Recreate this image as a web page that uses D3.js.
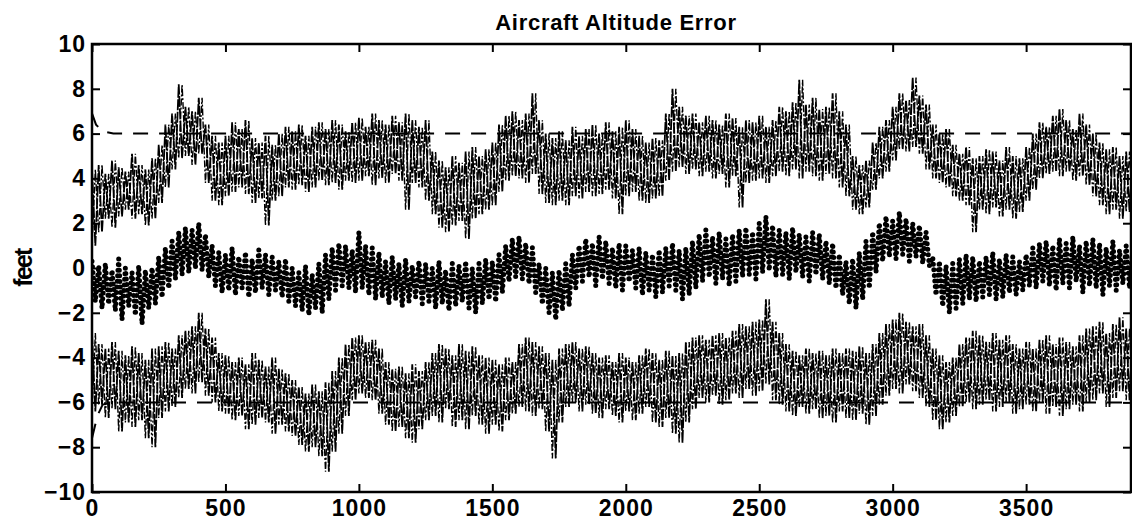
<!DOCTYPE html>
<html>
<head>
<meta charset="utf-8">
<script src="https://cdn.jsdelivr.net/npm/d3@7"></script>
<style>
  body { margin: 0; background: #fff; }
  svg { display: block; }
  text { font-family: "Liberation Sans", Arial, sans-serif; fill: #000; }
</style>
</head>
<body>
<svg id="chart" width="1132" height="524"></svg>
<script>
// sample spacing along the x axis (each bin holds a hi and a lo reading)
var binWidth = 25;

var xTicks = [0, 500, 1000, 1500, 2000, 2500, 3000, 3500];
var yTicks = [-10, -8, -6, -4, -2, 0, 2, 4, 6, 8, 10];

// upper trace (positive error band), envelope per bin
var upperHi = [
  4.4, 4.6, 4.2, 4.8, 4.5, 4.3, 5.1, 4.6, 4.4, 4.9,
  5.5, 6.4, 6.9, 8.2, 7.2, 7.0, 7.6, 6.4, 5.9, 5.6,
  5.9, 6.5, 6.2, 6.6, 5.8, 5.6, 5.9, 5.5, 6.0, 6.3,
  6.1, 6.4, 5.9, 6.3, 6.5, 6.2, 6.6, 6.4, 6.1, 6.5,
  6.7, 6.3, 6.9, 6.6, 6.4, 6.8, 6.5, 6.9, 6.6, 6.3,
  6.6, 5.2, 4.8, 4.5, 5.0, 4.7, 5.2, 5.4, 5.0, 5.3,
  5.6, 6.4, 6.8, 7.0, 6.6, 6.9, 7.8, 6.6, 6.0, 5.8,
  6.1, 5.7, 6.3, 5.9, 6.2, 6.4, 6.0, 6.5, 6.1, 6.3,
  6.6, 6.2, 5.9, 5.6, 5.8, 5.7, 6.9, 8.0, 7.2, 6.8,
  6.9, 6.5, 6.8, 6.6, 6.4, 6.9, 6.7, 6.3, 6.6, 6.5,
  6.8, 6.3, 6.6, 7.2, 7.0, 7.4, 8.4, 7.3, 7.6, 7.1,
  7.2, 7.8, 7.0, 6.4, 5.0, 4.6, 4.8, 5.6, 6.3, 6.6,
  7.2, 7.8, 7.5, 8.5, 7.7, 7.3, 6.4, 6.0, 6.2, 5.5,
  5.1, 5.4, 4.9, 5.0, 5.3, 5.2, 4.8, 5.4, 5.0, 4.9,
  5.4, 6.0, 6.5, 6.3, 6.8, 7.1, 6.6, 6.2, 6.9, 6.4,
  6.0, 5.6, 5.3, 5.4, 5.0, 5.2, 5.4
];
var upperLo = [
  1.0, 1.6, 2.2, 1.8, 2.3, 2.6, 2.2, 2.4, 1.9, 2.2,
  2.9, 3.6, 4.4, 4.9, 5.0, 4.6, 5.1, 3.8, 3.0, 2.8,
  3.2, 3.4, 3.6, 3.3, 2.9, 3.1, 1.9, 3.0, 3.2, 3.6,
  3.5, 3.7, 3.4, 3.6, 3.9, 3.7, 3.8, 3.5, 3.9, 3.8,
  3.9, 4.1, 3.7, 4.0, 3.8, 4.2, 3.9, 2.6, 3.8, 3.6,
  3.0, 2.4, 1.8, 1.6, 1.9, 2.1, 1.3, 2.2, 2.4, 2.6,
  2.8, 3.4, 3.9, 4.1, 4.0, 3.8, 4.2, 3.3, 2.9, 2.8,
  3.0, 2.8, 3.2, 3.1, 3.4, 3.2, 3.3, 3.5, 3.1, 2.4,
  3.2, 3.4, 3.0, 2.9, 3.1, 3.2, 3.9, 4.3, 4.5, 4.2,
  4.4, 4.1, 4.3, 4.0, 4.2, 3.6, 4.1, 2.7, 3.8, 3.9,
  4.0, 3.8, 4.1, 4.3, 4.1, 4.4, 4.0, 4.3, 4.1, 3.9,
  4.2, 4.0, 3.6, 3.2, 2.6, 2.4, 2.7, 3.5, 4.0, 4.3,
  4.8, 5.3, 5.2, 5.4, 5.1, 4.4, 4.0, 3.8, 3.6, 3.2,
  3.0, 2.8, 1.6, 2.6, 2.4, 2.7, 2.3, 2.6, 2.2, 2.5,
  3.0, 3.5, 4.0, 4.2, 4.3, 4.1, 4.3, 3.9, 4.1, 3.7,
  3.2, 2.8, 2.4, 2.6, 2.2, 2.5, 2.6
];

// middle trace (dots around zero)
var middleHi = [
  0.3, 0.1, 0.2, -0.1, 0.4, 0.0, -0.2, 0.1, -0.1, 0.0,
  0.5, 0.9, 1.2, 1.6, 1.8, 1.7, 2.0, 1.5, 1.0, 0.7,
  0.6, 0.9, 0.5, 0.7, 0.4, 0.8, 0.6, 0.5, 0.3, 0.4,
  0.0, -0.2, 0.1, -0.3, 0.2, 0.6, 0.9, 1.1, 1.0, 0.8,
  1.6, 1.0, 0.9, 0.7, 0.3, 0.5, 0.2, 0.4, 0.1, 0.3,
  0.2, 0.0, 0.3, -0.1, 0.2, 0.1, 0.3, 0.0, 0.2, 0.4,
  0.3, 0.6, 1.0, 1.3, 1.4, 1.1, 0.9, 0.2, 0.0, -0.2,
  -0.1, 0.2, 0.6, 1.0, 1.3, 1.1, 1.4, 1.2, 0.9, 1.1,
  1.0, 0.8, 0.9, 0.7, 0.6, 0.8, 0.9, 1.1, 0.8, 0.9,
  1.2, 1.5, 1.7, 1.4, 1.6, 1.3, 1.5, 1.7, 1.8, 1.6,
  2.0, 2.3, 1.9, 1.7, 1.6, 1.8, 1.5, 1.4, 1.6, 1.5,
  1.2, 1.1, 0.6, 0.3, 0.4, 0.7, 1.2, 1.6, 2.0, 2.3,
  2.1, 2.5, 2.2, 2.0, 1.9, 1.6, 0.5, 0.3, 0.1, 0.2,
  0.4, 0.6, 0.5, 0.3, 0.5, 0.7, 0.4, 0.6, 0.5, 0.3,
  0.6, 0.9, 1.1, 1.2, 1.0, 1.3, 1.1, 1.4, 1.0, 1.2,
  1.3, 1.1, 0.9, 1.2, 0.8, 1.0, 0.9
];
var middleLo = [
  -1.5, -1.8, -1.6, -1.9, -2.3, -1.7, -2.1, -2.5, -1.8, -1.6,
  -1.3, -0.9, -0.5, -0.3, -0.2, 0.0, -0.1, -0.4, -0.8, -1.1,
  -1.0, -1.2, -0.9, -1.3, -1.1, -0.9, -1.2, -1.0, -1.3, -1.5,
  -1.7, -1.9, -2.1, -1.8, -2.0, -1.4, -1.0, -0.8, -0.9, -1.1,
  -0.9, -1.2, -1.4, -1.3, -1.6, -1.4, -1.7, -1.5, -1.3, -1.6,
  -1.5, -1.8, -1.6, -1.9, -1.7, -1.5, -1.8, -2.0, -1.6, -1.4,
  -1.5, -1.1, -0.6, -0.4, -0.5, -0.7, -1.1, -1.6, -2.0, -2.3,
  -1.9, -1.7, -0.9, -0.6, -0.4, -0.8, -0.5, -0.7, -0.9, -1.0,
  -0.6, -0.9, -1.2, -1.0, -1.3, -1.1, -0.8, -1.0, -1.4, -1.2,
  -0.9, -0.6, -0.4, -0.7, -0.5, -0.8, -0.6, -0.4, -0.3, -0.5,
  -0.2, -0.1, -0.4, -0.3, -0.5, -0.2, -0.4, -0.6, -0.3, -0.5,
  -0.7, -0.9, -1.2, -1.6, -1.8, -1.4, -0.9, -0.2, 0.3, 0.5,
  0.4, 0.6, 0.3, 0.5, 0.2, 0.1, -1.2, -1.7, -2.0, -1.8,
  -1.6, -1.4, -1.5, -1.3, -1.2, -1.4, -1.3, -1.1, -1.2, -1.0,
  -0.8, -0.9, -0.6, -0.8, -1.0, -0.7, -0.9, -0.6, -1.1, -0.8,
  -0.9, -1.2, -0.8, -1.0, -0.7, -0.9, -0.8
];

// lower trace (negative error band)
var lowerHi = [
  -2.9, -3.4, -3.6, -3.3, -3.7, -3.9, -3.5, -3.8, -4.1, -3.6,
  -3.5, -3.3, -3.6, -3.0, -2.8, -2.6, -2.0, -2.7, -3.1, -3.8,
  -3.9, -4.2, -4.0, -4.3, -3.8, -4.1, -4.4, -4.0, -4.5, -4.7,
  -5.0, -5.3, -5.6, -5.2, -5.5, -5.1, -4.6, -4.0, -3.4, -3.1,
  -3.0, -3.3, -3.2, -3.6, -4.2, -4.5, -4.4, -4.7, -4.3, -4.6,
  -4.2, -3.8, -3.4, -3.6, -3.9, -3.4, -3.7, -3.5, -3.9, -4.0,
  -4.1, -4.3, -4.0, -4.2, -3.4, -3.1, -3.3, -3.5, -3.8, -4.1,
  -3.6, -3.4, -3.3, -3.6, -3.5, -3.8, -4.0, -3.9, -4.2, -3.8,
  -4.0, -4.2, -3.9, -3.6, -3.8, -4.1, -3.7, -3.9, -3.8, -3.3,
  -3.1, -3.0, -3.2, -3.0, -2.9, -3.1, -2.8, -2.5, -2.6, -2.4,
  -2.3, -1.4, -2.4, -2.9, -3.4, -3.7, -3.9, -3.6, -3.8, -3.7,
  -3.9, -3.6, -3.8, -3.6, -3.7, -3.5, -3.8, -3.4, -2.9, -2.5,
  -2.3, -2.0, -2.4, -2.6, -2.5, -3.0, -3.6, -3.9, -4.2, -4.0,
  -3.4, -3.1, -2.8, -3.0, -3.3, -2.9, -3.2, -3.0, -3.4, -3.6,
  -3.3, -3.6, -3.2, -3.0, -3.4, -3.1, -3.3, -3.5, -3.0, -2.7,
  -2.6, -2.4, -2.9, -2.5, -2.2, -2.7, -2.5
];
var lowerLo = [
  -6.4, -6.1, -6.7, -6.3, -7.3, -6.9, -7.1, -6.8, -7.6, -8.0,
  -6.7, -6.4, -6.2, -5.8, -5.4, -5.6, -5.1, -5.7, -6.0, -6.4,
  -6.5, -6.8, -6.6, -7.2, -7.0, -6.7, -6.9, -7.4, -7.0, -7.3,
  -7.5, -7.9, -8.2, -8.0, -8.4, -9.1, -8.2, -7.4, -6.6, -5.9,
  -5.6, -5.8, -5.9, -6.5, -7.0, -7.3, -7.1, -7.6, -7.8, -7.2,
  -6.8, -6.6, -6.9, -6.3, -7.1, -6.8, -7.2, -6.6, -7.0, -7.4,
  -7.0, -7.3, -6.8, -6.5, -6.2, -6.4, -6.6, -6.3, -7.3, -8.5,
  -6.9, -6.2, -6.0, -6.4, -6.1, -6.5, -6.7, -6.3, -6.6, -6.9,
  -6.4, -6.8, -6.5, -6.2, -6.9, -7.1, -6.7, -7.4, -7.8, -6.9,
  -6.3, -5.8, -6.0, -5.7, -6.1, -5.9, -5.6, -5.8, -5.4, -5.7,
  -5.5, -5.2, -5.9, -6.1, -6.4, -6.6, -6.2, -6.5, -6.3, -6.7,
  -6.6, -6.9, -6.4, -6.7, -6.8, -6.5, -7.0, -6.6, -6.1, -5.7,
  -5.4, -5.6, -5.2, -5.5, -5.8, -6.2, -6.8, -7.2, -6.9, -6.6,
  -6.2, -6.0, -6.3, -6.1, -5.9, -6.4, -6.2, -6.0, -6.5, -6.3,
  -6.1, -6.4, -6.0, -6.5, -6.2, -6.6, -6.3, -6.1, -6.4, -6.0,
  -5.9, -5.6, -6.2, -5.8, -5.5, -5.9, -5.7
];

// dashed limit lines (with the short start-up transient)
var upperLimitX = [0, 15, 40, 80, 3893];
var upperLimitY = [6.9, 6.4, 6.1, 6.0, 6.0];
var lowerLimitX = [0, 20, 40, 80, 3893];
var lowerLimitY = [-7.6, -6.6, -6.1, -6.0, -6.0];

var xMax = 3893;

var svg = d3.select("#chart");
var margin = { top: 44, right: 1, bottom: 32, left: 92 },
  width = 1132 - margin.left - margin.right,
  height = 524 - margin.top - margin.bottom;

var x = d3.scaleLinear().domain([0, xMax]).range([0, width]);
var y = d3.scaleLinear().domain([-10, 10]).range([height, 0]);

var g = svg.append("g")
  .attr("transform", "translate(" + margin.left + "," + margin.top + ")");

g.append("clipPath").attr("id", "plotclip")
  .append("rect").attr("width", width).attr("height", height);

var plot = g.append("g").attr("clip-path", "url(#plotclip)");

// zigzag through each bin; phase 0 goes hi -> lo, phase 1 goes lo -> hi
function zigzag(hi, lo, phase) {
  var pts = [];
  var n = Math.min(hi.length, lo.length);
  for (var i = 0; i < n; i++) {
    var a = phase ? lo[i] : hi[i], b = phase ? hi[i] : lo[i];
    pts.push([i * binWidth, a]);
    pts.push([i * binWidth + binWidth / 2, b]);
  }
  return pts;
}

var line = d3.line()
  .x(function (d) { return x(d[0]); })
  .y(function (d) { return y(d[1]); });

[[upperHi, upperLo], [lowerHi, lowerLo]].forEach(function (s) {
  plot.append("path")
    .datum(zigzag(s[0], s[1], 0))
    .attr("d", line)
    .attr("fill", "none")
    .attr("stroke", "#000")
    .attr("stroke-width", 1.8)
    .attr("stroke-dasharray", "11,1.5");
  plot.append("path")
    .datum(zigzag(s[0], s[1], 1))
    .attr("d", line)
    .attr("fill", "none")
    .attr("stroke", "#000")
    .attr("stroke-width", 1.4)
    .attr("stroke-dasharray", "7,2,2,2");
});

plot.append("path")
  .datum(zigzag(middleHi, middleLo, 0))
  .attr("d", line)
  .attr("fill", "none")
  .attr("stroke", "#000")
  .attr("stroke-width", 5)
  .attr("stroke-linecap", "round")
  .attr("stroke-dasharray", "0,5.6");

// limit lines
[[upperLimitX, upperLimitY], [lowerLimitX, lowerLimitY]].forEach(function (lim) {
  plot.append("path")
    .datum(d3.zip(lim[0], lim[1]))
    .attr("d", line)
    .attr("fill", "none")
    .attr("stroke", "#000")
    .attr("stroke-width", 2)
    .attr("stroke-dasharray", "15,11");
});

// frame with inward ticks on all four sides
var tickLen = 8;
function styleAxis(sel) {
  sel.select(".domain").remove();
  sel.selectAll(".tick line").attr("stroke", "#000").attr("stroke-width", 2);
  sel.selectAll(".tick text")
    .style("font-size", "23px")
    .style("font-weight", "bold")
    .style("letter-spacing", "1px");
}

g.append("g")
  .attr("transform", "translate(0," + height + ")")
  .call(d3.axisBottom(x).tickValues(xTicks).tickFormat(d3.format("d"))
    .tickSizeInner(-tickLen).tickSizeOuter(0).tickPadding(8))
  .call(styleAxis);

g.append("g")
  .call(d3.axisTop(x).tickValues(xTicks).tickSizeInner(-tickLen).tickSizeOuter(0).tickFormat(""))
  .call(styleAxis);

g.append("g")
  .call(d3.axisLeft(y).tickValues(yTicks).tickSizeInner(-tickLen).tickSizeOuter(0).tickPadding(6))
  .call(styleAxis);

g.append("g")
  .attr("transform", "translate(" + width + ",0)")
  .call(d3.axisRight(y).tickValues(yTicks).tickSizeInner(-tickLen).tickSizeOuter(0).tickFormat(""))
  .call(styleAxis);

g.append("rect")
  .attr("width", width)
  .attr("height", height)
  .attr("fill", "none")
  .attr("stroke", "#000")
  .attr("stroke-width", 2.5);

// title and y label
svg.append("text")
  .attr("x", 616)
  .attr("y", 30)
  .attr("text-anchor", "middle")
  .style("font-size", "22px")
  .style("font-weight", "bold")
  .style("letter-spacing", "0.7px")
  .text("Aircraft Altitude Error");

svg.append("text")
  .attr("transform", "translate(32," + (margin.top + y(0)) + ") rotate(-90)")
  .attr("text-anchor", "middle")
  .style("font-size", "25px")
  .style("font-weight", "bold")
  .style("letter-spacing", "-1.8px")
  .text("feet");
</script>
</body>
</html>
